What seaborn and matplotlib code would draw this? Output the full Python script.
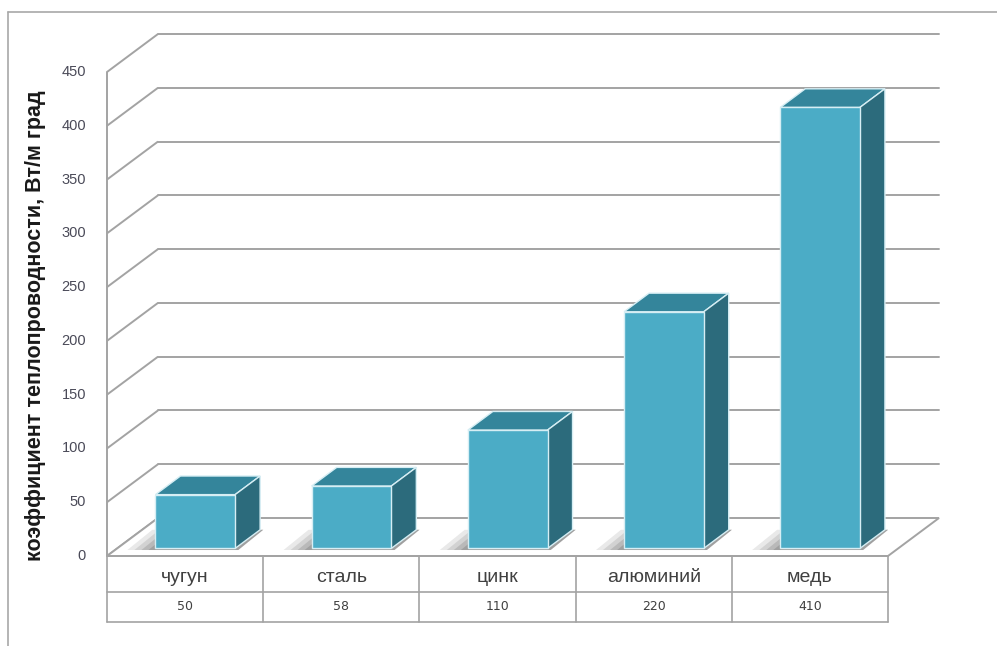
import matplotlib
matplotlib.use("Agg")
import matplotlib.pyplot as plt
import seaborn as sns
import pandas as pd
from matplotlib.patches import Polygon
from matplotlib.lines import Line2D

materials = ["чугун", "сталь", "цинк", "алюминий", "медь"]
conductivity = [50, 58, 110, 220, 410]
y_ticks = [0, 50, 100, 150, 200, 250, 300, 350, 400, 450]
y_label = "коэффициент теплопроводности, Вт/м град"

sns.set_theme(style="white")
plt.rcParams['font.family'] = ['Liberation Sans', 'DejaVu Sans']

FRONT = "#4BACC6"
TOP = "#34859B"
SIDE = "#2C6B7C"
EDGE = "#D6EEF4"
GRID = "#A3A3A3"
TXT = "#404040"

W, H = 997, 646
fig = plt.figure(figsize=(W / 100, H / 100), dpi=100)
fig.patch.set_facecolor("white")
ax = fig.add_axes([107 / W, 90 / H, 781 / W, 484 / H])

df = pd.DataFrame({"material": materials, "value": conductivity})
sns.barplot(data=df, x="material", y="value", color=FRONT, saturation=1,
            width=0.51, ax=ax, edgecolor=EDGE, linewidth=1.0, zorder=6)

ax.set_xlim(-0.5, 4.5)
ax.set_ylim(0, 450)
ax.axis("off")

n = len(materials)
DX = 51 / 156.2          # full floor depth in x data units
DY = 38 / 1.0756         # full floor depth in y data units
D0, D1 = 0.2, 0.69       # bar front / back depth
x_left, x_right = -0.5, n - 0.5

# side wall diagonals and back wall gridlines
for t in y_ticks:
    ax.plot([x_left, x_left + DX], [t, t + DY], color=GRID, lw=1.4,
            clip_on=False, zorder=1, solid_capstyle="butt")
    if t > 0:
        ax.plot([x_left + DX, x_right + DX], [t + DY, t + DY], color=GRID,
                lw=1.4, clip_on=False, zorder=1)
    ax.text(x_left - 21 / 156.2, t, str(t), ha="right", va="center",
            fontsize=10.5, color="#4a4a58", family=["Liberation Sans", "DejaVu Sans"])
# front vertical axis
ax.plot([x_left, x_left], [0, 450], color=GRID, lw=1.4, clip_on=False, zorder=1)

# floor
floor = Polygon([(x_left, 0), (x_right, 0), (x_right + DX, DY), (x_left + DX, DY)],
                closed=True, facecolor="white", edgecolor=GRID, lw=1.4,
                clip_on=False, zorder=2)
ax.add_patch(floor)

# 3D faces of the bars
dd_x = (D1 - D0) * DX
dd_y = (D1 - D0) * DY
for p in list(ax.patches):
    if p is floor:
        continue
    x0, w, h = p.get_x(), p.get_width(), p.get_height()
    xa = x0 + D0 * DX
    yb = D0 * DY
    p.set_x(xa)
    p.set_y(yb)
    xb = xa + w
    top = h + yb
    # soft shadow on the floor
    for k, a in enumerate([0.12, 0.14, 0.18, 0.22]):
        s = 0.045 * (4 - k)
        ax.add_patch(Polygon([(xa - s, yb - 1.5), (xb + 0.02, yb - 1.5),
                              (xb + dd_x + 0.02, yb + dd_y), (xa + dd_x - s, yb + dd_y)],
                             closed=True, facecolor="#4a4a4a", edgecolor="none",
                             alpha=a, zorder=3, clip_on=False))
    ax.add_patch(Polygon([(xa, top), (xb, top), (xb + dd_x, top + dd_y), (xa + dd_x, top + dd_y)],
                         closed=True, facecolor=TOP, edgecolor=EDGE, lw=1.0,
                         zorder=5, clip_on=False))
    ax.add_patch(Polygon([(xb, yb), (xb + dd_x, yb + dd_y), (xb + dd_x, top + dd_y), (xb, top)],
                         closed=True, facecolor=SIDE, edgecolor=EDGE, lw=1.0,
                         zorder=5, clip_on=False))
    p.set_clip_on(False)

# data table
r1 = -(592 - 556) / 1.0756
r2 = -(622 - 556) / 1.0756
for yy in [0, r1, r2]:
    ax.plot([x_left, x_right], [yy, yy], color=GRID, lw=1.2, clip_on=False, zorder=2)
for k in range(n + 1):
    ax.plot([x_left + k, x_left + k], [0, r2], color=GRID, lw=1.2, clip_on=False, zorder=2)
for i, (m, v) in enumerate(zip(materials, conductivity)):
    ax.text(i, (0 + r1) / 2 - 3.0, m, ha="center", va="center", fontsize=14,
            color=TXT, clip_on=False)
    ax.text(i, (r1 + r2) / 2, str(v), ha="center", va="center", fontsize=9,
            color=TXT, family=["DejaVu Sans"], clip_on=False)

# y label
fig.text(36 / W, 1 - 326 / H, y_label, rotation=90, ha="center", va="center",
         fontsize=15.5, fontweight="bold", color="#1a1a1a")

# outer frame (left and top edges)
fig.add_artist(Line2D([8 / W, 1.0], [1 - 12 / H, 1 - 12 / H], transform=fig.transFigure,
                      color="#A8A8A8", lw=1.2))
fig.add_artist(Line2D([8 / W, 8 / W], [0.0, 1 - 12 / H], transform=fig.transFigure,
                      color="#A8A8A8", lw=1.2))

fig.savefig("out.png", dpi=100)
